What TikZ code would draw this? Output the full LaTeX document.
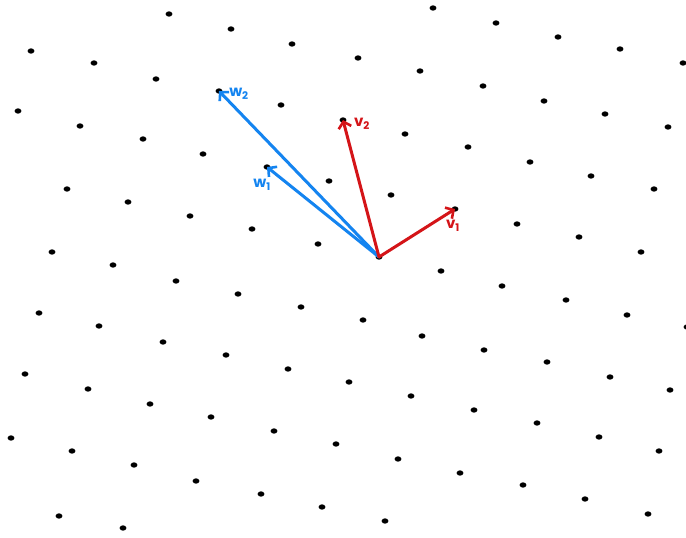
\documentclass[tikz,border=0pt]{standalone}
\usepackage{fontspec}
\newfontfamily\hand{Poppins}
\usetikzlibrary{arrows.meta}
\definecolor{wblue}{RGB}{20,132,240}
\definecolor{vred}{RGB}{212,20,24}
\tikzset{
  dot/.style={fill=black},
  vec/.style={line width=3pt, line cap=round, -{Straight Barb[length=6pt,width=13pt,line width=2.6pt]}},
  lbl/.style={font=\hand\bfseries\fontsize{15}{15}\selectfont, inner sep=0pt},
}
\begin{document}
\begin{tikzpicture}[x=1pt,y=-1pt]
\useasboundingbox (0,0) rectangle (686,538);
\fill[white] (0,0) rectangle (686,538);
\foreach \p in {
 (169,14),(231,29),(292,44),(358,58),(420,71),(483,86),(544,101),(605,114),(668,127),
 (433,8),(496,23),(558,37),(620,49),(683,63),
 (31,51),(94,63),(156,79),(219,91),(281,105),(343,120),(405,134),(468,147),(530,162),(591,176),(654,189),
 (18,111),(80,126),(143,139),(203,154),(267,167),(329,181),(391,195),(455,209),(517,224),(579,237),(641,252),
 (67,189),(128,202),(190,216),(252,229),(318,244),(379,257),(441,271),(502,286),(566,300),(627,315),(687,327),
 (52,252),(113,265),(176,281),(238,294),(301,307),(363,320),(422,336),(484,350),(547,362),(610,377),(670,390),
 (39,313),(99,326),(163,342),(226,355),(288,369),(349,382),(411,396),(474,410),(537,423),(599,437),(659,451),
 (25,374),(88,389),(150,404),(211,417),(274,431),(336,444),(398,459),(460,473),(523,485),(585,499),(648,514),
 (11,438),(72,451),(134,465),(196,481),(261,494),(322,507),(385,521),
 (59,516),(123,528)}
 \fill[dot] \p ellipse [x radius=3.4pt, y radius=2.7pt];
\coordinate (O) at (379,257);
\coordinate (v1) at (455,209);
\coordinate (v2) at (343,120);
\coordinate (w1) at (267,167);
\coordinate (w2) at (219,91);
\draw[vec, wblue] (O) -- (w2);
\draw[vec, wblue] (O) -- (w1);
\draw[vec, vred] (O) -- (v2);
\draw[vec, vred] (O) -- (v1);
\node[lbl, text=wblue] (lw2) at (239,94) {w\textsubscript{2}};
\node[lbl, text=wblue] (lw1) at (262,185) {w\textsubscript{1}};
\node[lbl, text=vred] (lv2) at (362,124) {v\textsubscript{2}};
\node[lbl, text=vred] (lv1) at (453,226) {v\textsubscript{1}};
\end{tikzpicture}
\end{document}
